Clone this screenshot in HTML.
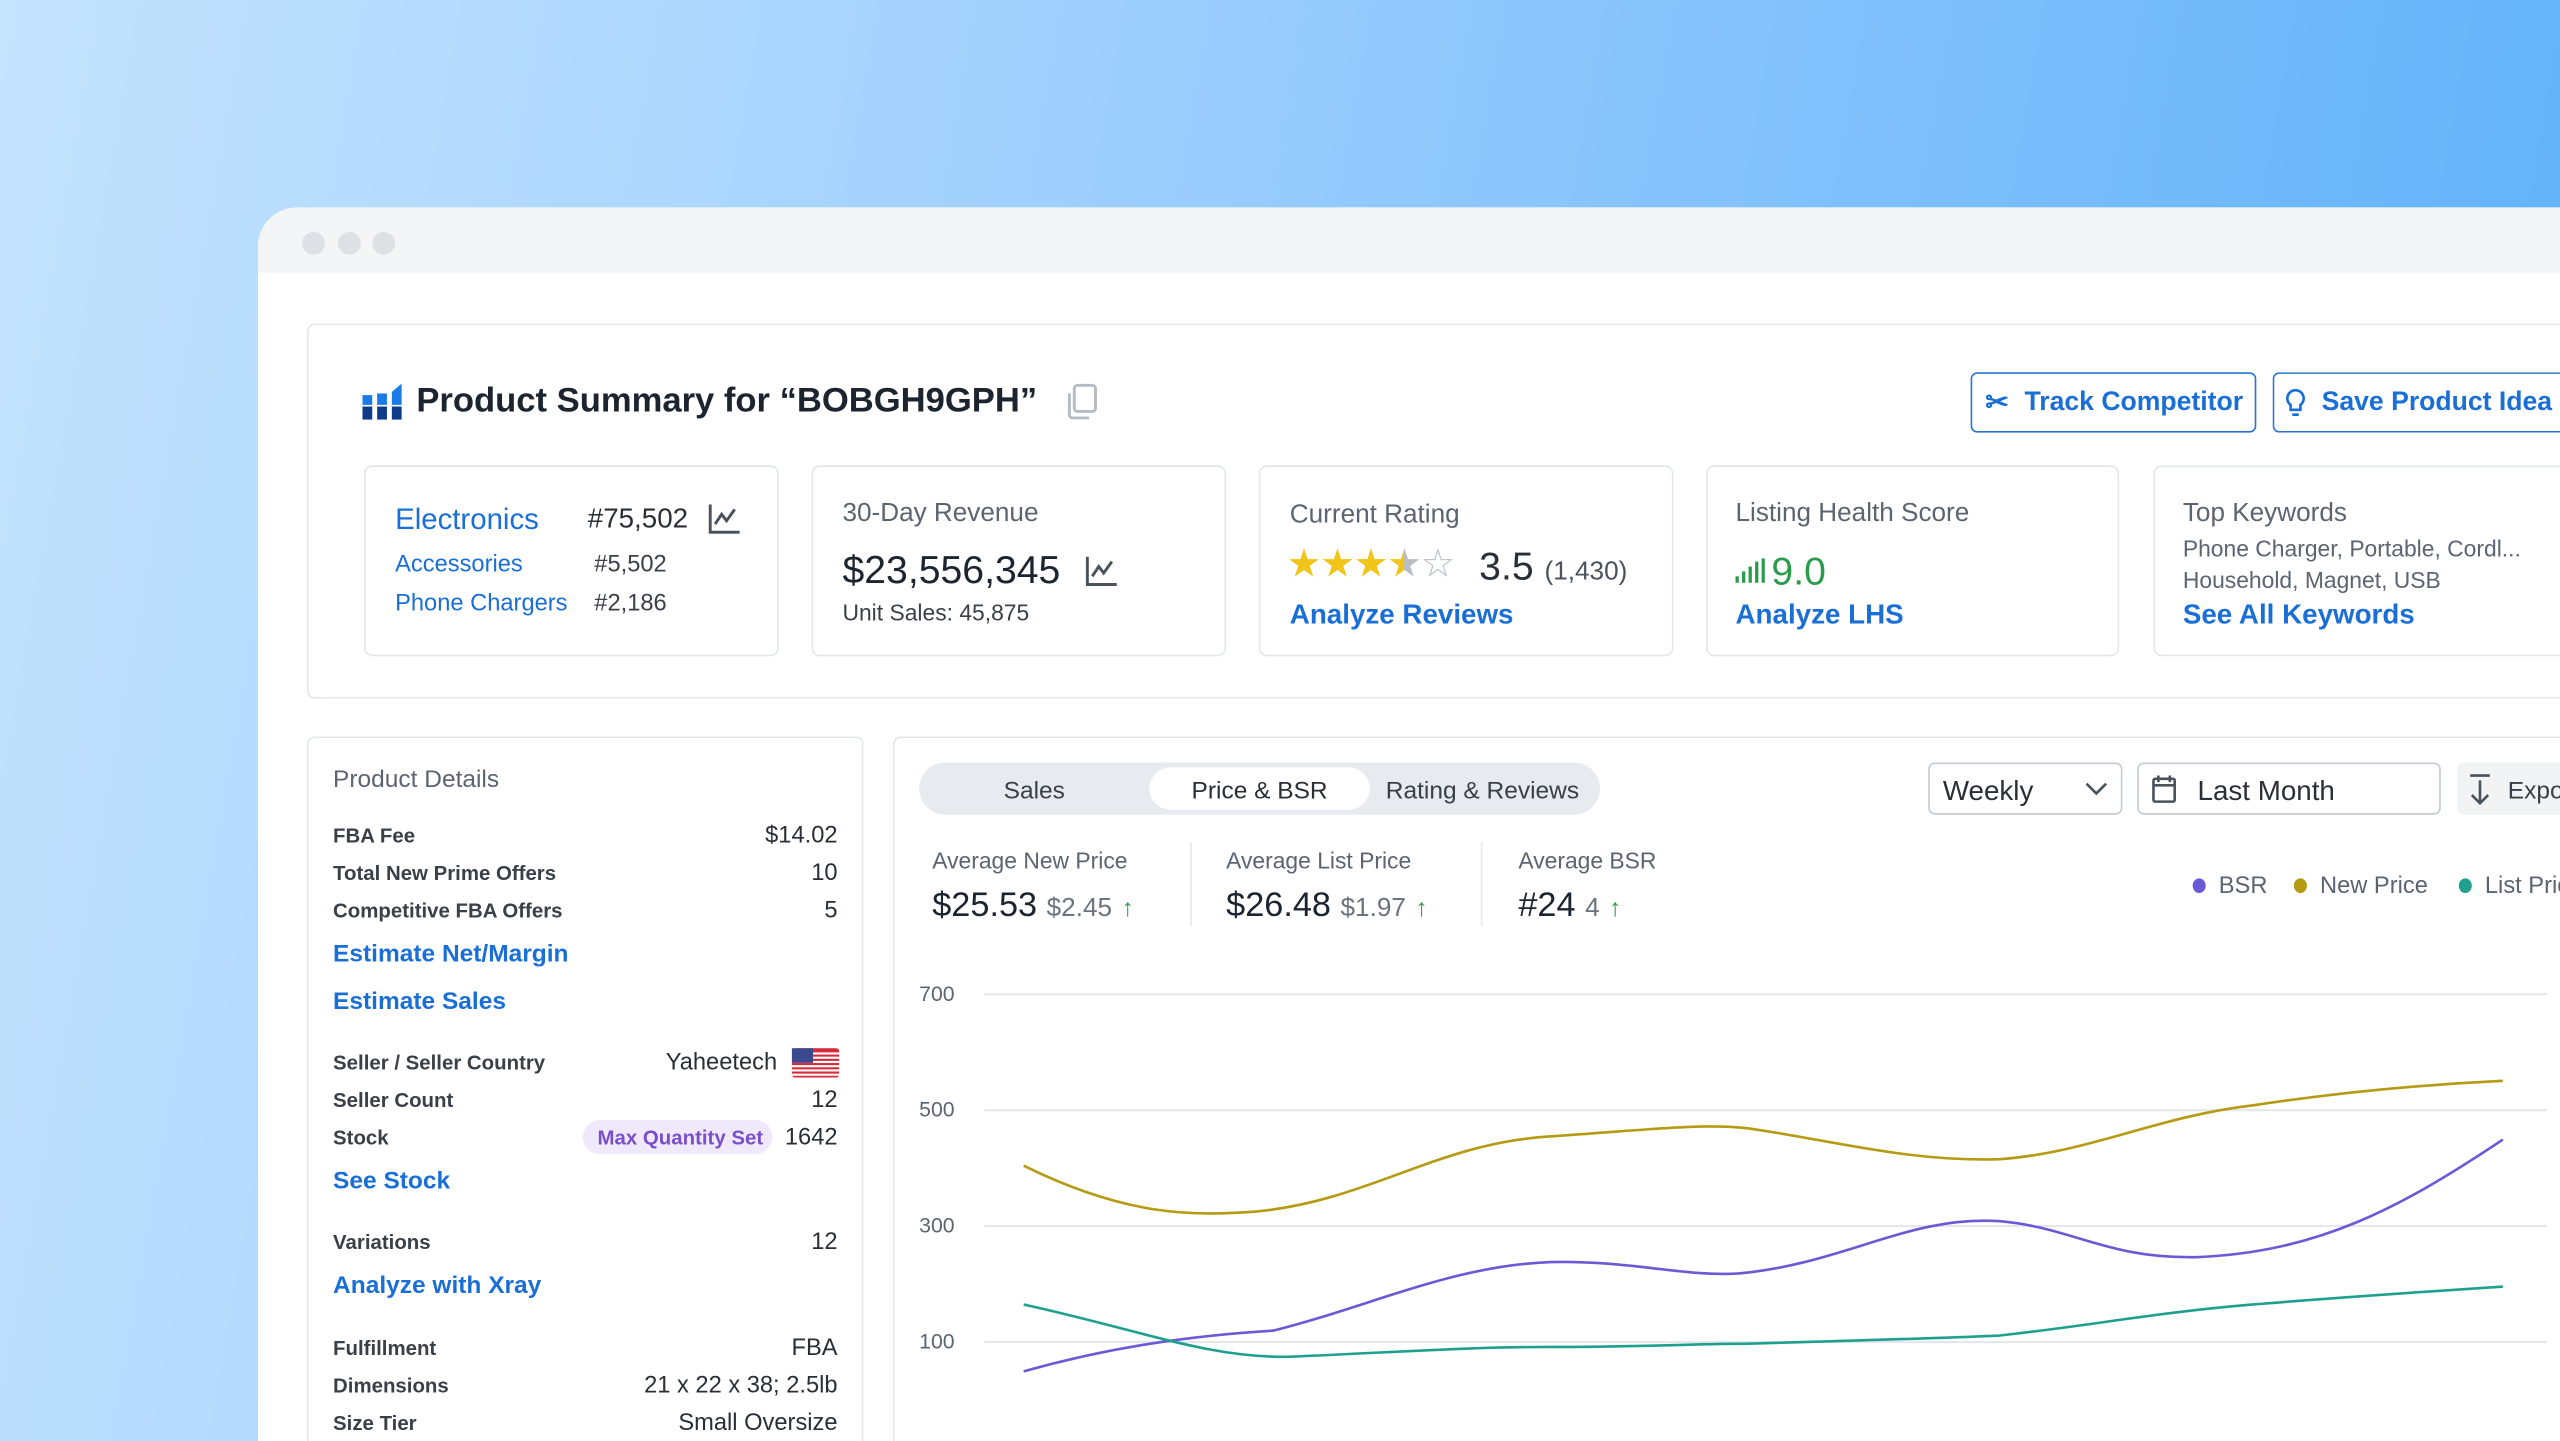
<!DOCTYPE html>
<html><head><meta charset="utf-8"><style>
html,body{margin:0;padding:0;width:2560px;height:1441px;overflow:hidden}
body{background:linear-gradient(100deg,#c4e3fd 0%,#a8d4fd 30%,#86c3fc 60%,#5cb0f8 100%);position:relative}
#wrap{position:absolute;left:0;top:0;width:2560px;height:1441px;overflow:hidden}
#s{position:absolute;left:0;top:0;width:1568px;height:883px;overflow:hidden;transform:scale(1.63265);transform-origin:0 0;font-family:"Liberation Sans",sans-serif;color:#2a2f36}
.t{position:absolute;white-space:nowrap;line-height:1}
.b{position:absolute;box-sizing:border-box}
.g{color:#5b6470}
.lk{color:#1a6fd6;font-weight:bold}
.lb{font-weight:bold;font-size:12.5px;color:#3a4048}
.v{font-size:14.5px;color:#2a2f36;text-align:right}
.card{border:1px solid #e3e7ec;border-radius:5px;background:#fff}
</style></head><body><div id="wrap"><div id="s">
<div class="b" style="left:158px;top:127px;width:1410px;height:756px;background:#fff;border-radius:24px 0 0 0;overflow:hidden">
  <div class="b" style="left:0;top:0;width:100%;height:40px;background:#f3f5f7"></div>
</div>
<div class="b" style="left:185px;top:142px;width:14px;height:14px;border-radius:50%;background:#dde1e6"></div>
<div class="b" style="left:207px;top:142px;width:14px;height:14px;border-radius:50%;background:#dde1e6"></div>
<div class="b" style="left:228px;top:142px;width:14px;height:14px;border-radius:50%;background:#dde1e6"></div>

<div class="b card" style="left:188px;top:198px;width:1380px;height:230px;border-right:none;border-radius:5px 0 0 5px"></div>
<svg class="b" style="left:222px;top:235px" width="25" height="23" viewBox="0 0 25 23"><g fill="#1a7be6"><rect x="0" y="7" width="6" height="6"/><rect x="9" y="6" width="6" height="7"/><polygon points="18,5 24,0 24,13 18,13"/></g><g fill="#0d3a8a"><rect x="0" y="14" width="6" height="8"/><rect x="9" y="14" width="6" height="8"/><rect x="18" y="14" width="6" height="8"/></g></svg>
<div class="t" style="left:255px;top:235px;font-size:21.2px;font-weight:bold;color:#1c2430">Product Summary for “BOBGH9GPH”</div>
<svg class="b" style="left:650px;top:234px" width="24" height="24" viewBox="0 0 24 24" fill="none" stroke="#b6bcc4" stroke-width="1.8"><rect x="8" y="2" width="13" height="16" rx="2"/><path d="M5 7v13a2 2 0 0 0 2 2h10"/></svg>

<div class="b" style="left:1207px;top:228px;width:175px;height:37px;border:1.3px solid #2a74c9;border-radius:4px"></div>
<div class="t" style="left:1216px;top:238px;font-size:17px;color:#1a6fd6;font-weight:bold">✂</div>
<div class="t" style="left:1240px;top:238px;font-size:16.3px;color:#1a6fd6;font-weight:bold">Track Competitor</div>
<div class="b" style="left:1392px;top:228px;width:176px;height:37px;border:1.3px solid #2a74c9;border-right:none;border-radius:4px 0 0 4px"></div>
<svg class="b" style="left:1400px;top:238px" width="12" height="18" viewBox="0 0 12 18" fill="none" stroke="#1a6fd6" stroke-width="1.6"><path d="M6 1a5 5 0 0 0-3 9v3h6v-3a5 5 0 0 0-3-9z"/><path d="M4 16h4"/></svg>
<div class="t" style="left:1422px;top:238px;font-size:16.3px;color:#1a6fd6;font-weight:bold">Save Product Idea</div>

<div class="b card" style="left:223px;top:285px;width:254px;height:117px"></div>
<div class="b card" style="left:497px;top:285px;width:254px;height:117px"></div>
<div class="b card" style="left:771px;top:285px;width:254px;height:117px"></div>
<div class="b card" style="left:1045px;top:285px;width:253px;height:117px"></div>
<div class="b card" style="left:1319px;top:285px;width:249px;height:117px;border-right:none;border-radius:5px 0 0 5px"></div>

<div class="t" style="left:242px;top:309px;font-size:18px;color:#1a6fd6">Electronics</div>
<div class="t" style="left:360px;top:309px;font-size:17px;color:#2a2f36">#75,502</div>
<svg class="b" style="left:434px;top:308px" width="20" height="19" viewBox="0 0 20 19" fill="none" stroke="#4a525c" stroke-width="1.8"><path d="M1 1v17h18"/><path d="M4 13l4-6 3 4 5-7"/></svg>
<div class="t" style="left:242px;top:339px;font-size:14.5px;color:#1a6fd6">Accessories</div>
<div class="t" style="left:364px;top:339px;font-size:14.5px;color:#3a4048">#5,502</div>
<div class="t" style="left:242px;top:363px;font-size:14.5px;color:#1a6fd6">Phone Chargers</div>
<div class="t" style="left:364px;top:363px;font-size:14.5px;color:#3a4048">#2,186</div>

<div class="t g" style="left:516px;top:307px;font-size:16px">30-Day Revenue</div>
<div class="t" style="left:516px;top:338px;font-size:24px;color:#1c2430">$23,556,345</div>
<svg class="b" style="left:665px;top:340px" width="20" height="19" viewBox="0 0 20 19" fill="none" stroke="#4a525c" stroke-width="1.8"><path d="M1 1v17h18"/><path d="M4 13l4-6 3 4 5-7"/></svg>
<div class="t" style="left:516px;top:368px;font-size:14px;color:#3a4048">Unit Sales: 45,875</div>

<div class="t g" style="left:790px;top:308px;font-size:16px">Current Rating</div>
<div class="t" style="left:788px;top:334px;font-size:24px;color:#f0c419;letter-spacing:-1px">★★★<span style="background:linear-gradient(90deg,#f0c419 50%,#b8bec6 50%);-webkit-background-clip:text;color:transparent">★</span><span style="color:#b8bec6">☆</span></div>
<div class="t" style="left:906px;top:336px;font-size:24px;color:#2a2f36">3.5 <span style="font-size:16px;color:#4a525c">(1,430)</span></div>
<div class="t lk" style="left:790px;top:368px;font-size:17px">Analyze Reviews</div>

<div class="t g" style="left:1063px;top:307px;font-size:16px">Listing Health Score</div>
<svg class="b" style="left:1063px;top:342px" width="18" height="15" viewBox="0 0 18 15" fill="#2a9a4b"><rect x="0" y="11" width="2" height="4"/><rect x="4" y="8" width="2" height="7"/><rect x="8" y="5" width="2" height="10"/><rect x="12" y="2" width="2" height="13"/><rect x="16" y="0" width="2" height="15"/></svg>
<div class="t" style="left:1085px;top:339px;font-size:24px;color:#2a9a4b">9.0</div>
<div class="t lk" style="left:1063px;top:368px;font-size:17px">Analyze LHS</div>

<div class="t g" style="left:1337px;top:307px;font-size:16px">Top Keywords</div>
<div class="t g" style="left:1337px;top:329px;font-size:14px">Phone Charger, Portable, Cordl...</div>
<div class="t g" style="left:1337px;top:348px;font-size:14px">Household, Magnet, USB</div>
<div class="t lk" style="left:1337px;top:368px;font-size:17px">See All Keywords</div>

<div class="b card" style="left:188px;top:451px;width:341px;height:432px;border-bottom:none;border-radius:5px 5px 0 0"></div>
<div class="t g" style="left:204px;top:470px;font-size:15px">Product Details</div>
<div class="t lb" style="left:204px;top:506px">FBA Fee</div><div class="t v" style="right:1055px;top:505px">$14.02</div>
<div class="t lb" style="left:204px;top:529px">Total New Prime Offers</div><div class="t v" style="right:1055px;top:528px">10</div>
<div class="t lb" style="left:204px;top:552px">Competitive FBA Offers</div><div class="t v" style="right:1055px;top:551px">5</div>
<div class="t lk" style="left:204px;top:577px;font-size:15px">Estimate Net/Margin</div>
<div class="t lk" style="left:204px;top:606px;font-size:15px">Estimate Sales</div>
<div class="t lb" style="left:204px;top:645px">Seller / Seller Country</div><div class="t v" style="right:1092px;top:644px">Yaheetech</div>
<svg class="b" style="left:485px;top:642px" width="29" height="18" viewBox="0 0 29 18"><rect width="29" height="18" rx="2" fill="#d62b3a"/><g fill="#fff"><rect y="2.6" width="29" height="1.3"/><rect y="5.2" width="29" height="1.3"/><rect y="7.8" width="29" height="1.3"/><rect y="10.4" width="29" height="1.3"/><rect y="13" width="29" height="1.3"/><rect y="15.6" width="29" height="1.3"/></g><rect width="13" height="9" fill="#3b4a8f"/></svg>
<div class="t lb" style="left:204px;top:668px">Seller Count</div><div class="t v" style="right:1055px;top:667px">12</div>
<div class="t lb" style="left:204px;top:691px">Stock</div>
<div class="b" style="left:357px;top:686px;width:116px;height:21px;border-radius:11px;background:#efe9fb"></div>
<div class="t" style="left:366px;top:691px;font-size:12.5px;font-weight:bold;color:#7a4fc9">Max Quantity Set</div>
<div class="t v" style="right:1055px;top:690px">1642</div>
<div class="t lk" style="left:204px;top:716px;font-size:15px">See Stock</div>
<div class="t lb" style="left:204px;top:755px">Variations</div><div class="t v" style="right:1055px;top:754px">12</div>
<div class="t lk" style="left:204px;top:780px;font-size:15px">Analyze with Xray</div>
<div class="t lb" style="left:204px;top:820px">Fulfillment</div><div class="t v" style="right:1055px;top:819px">FBA</div>
<div class="t lb" style="left:204px;top:843px">Dimensions</div><div class="t v" style="right:1055px;top:842px">21 x 22 x 38; 2.5lb</div>
<div class="t lb" style="left:204px;top:866px">Size Tier</div><div class="t v" style="right:1055px;top:865px">Small Oversize</div>

<div class="b card" style="left:547px;top:451px;width:1021px;height:432px;border-bottom:none;border-right:none;border-radius:5px 0 0 0"></div>
<div class="b" style="left:563px;top:467px;width:417px;height:32px;border-radius:16px;background:#e7eaee"></div>
<div class="b" style="left:704px;top:470px;width:135px;height:26px;border-radius:13px;background:#fff"></div>
<div class="t" style="left:563px;top:477px;width:141px;text-align:center;font-size:15px;color:#3a4048">Sales</div>
<div class="t" style="left:704px;top:477px;width:135px;text-align:center;font-size:15px;color:#2a2f36">Price &amp; BSR</div>
<div class="t" style="left:839px;top:477px;width:138px;text-align:center;font-size:15px;color:#3a4048">Rating &amp; Reviews</div>

<div class="b" style="left:1181px;top:467px;width:119px;height:32px;border:1px solid #c5cbd3;border-radius:4px"></div>
<div class="t" style="left:1190px;top:476px;font-size:17px;color:#2a2f36">Weekly</div>
<svg class="b" style="left:1277px;top:479px" width="14" height="9" viewBox="0 0 14 9" fill="none" stroke="#4a525c" stroke-width="1.6"><path d="M1 1l6 6 6-6"/></svg>
<div class="b" style="left:1309px;top:467px;width:186px;height:32px;border:1px solid #c5cbd3;border-radius:4px"></div>
<svg class="b" style="left:1318px;top:474px" width="15" height="18" viewBox="0 0 15 18" fill="none" stroke="#4a525c" stroke-width="1.6"><rect x="1" y="3" width="13" height="14" rx="1"/><path d="M4 1v4M11 1v4M1 7h13"/></svg>
<div class="t" style="left:1346px;top:476px;font-size:17px;color:#2a2f36">Last Month</div>
<div class="b" style="left:1505px;top:467px;width:63px;height:32px;border-radius:4px 0 0 4px;background:#f1f3f5"></div>
<svg class="b" style="left:1512px;top:474px" width="14" height="19" viewBox="0 0 14 19" fill="none" stroke="#4a525c" stroke-width="1.6"><path d="M1 1h12M7 4v14M2 13l5 5 5-5"/></svg>
<div class="t" style="left:1536px;top:477px;font-size:15px;color:#3a4048">Export</div>

<div class="t g" style="left:571px;top:520px;font-size:14px">Average New Price</div>
<div class="t" style="left:571px;top:544px;font-size:21px;color:#1c2430">$25.53 <span style="font-size:16px;color:#6b737d">$2.45</span> <span style="font-size:15px;color:#2a9a4b">↑</span></div>
<div class="b" style="left:729px;top:516px;width:1px;height:51px;background:#e3e7ec"></div>
<div class="t g" style="left:751px;top:520px;font-size:14px">Average List Price</div>
<div class="t" style="left:751px;top:544px;font-size:21px;color:#1c2430">$26.48 <span style="font-size:16px;color:#6b737d">$1.97</span> <span style="font-size:15px;color:#2a9a4b">↑</span></div>
<div class="b" style="left:907px;top:516px;width:1px;height:51px;background:#e3e7ec"></div>
<div class="t g" style="left:930px;top:520px;font-size:14px">Average BSR</div>
<div class="t" style="left:930px;top:544px;font-size:21px;color:#1c2430">#24 <span style="font-size:16px;color:#6b737d">4</span> <span style="font-size:15px;color:#2a9a4b">↑</span></div>

<div class="b" style="left:1343px;top:538px;width:8px;height:9px;border-radius:50%;background:#6a5ad6"></div>
<div class="t g" style="left:1359px;top:536px;font-size:14.5px">BSR</div>
<div class="b" style="left:1405px;top:538px;width:8px;height:9px;border-radius:50%;background:#b59a12"></div>
<div class="t g" style="left:1421px;top:536px;font-size:14.5px">New Price</div>
<div class="b" style="left:1506px;top:538px;width:8px;height:9px;border-radius:50%;background:#1fa08f"></div>
<div class="t g" style="left:1522px;top:536px;font-size:14.5px">List Price</div>

<div class="t g" style="left:563px;top:602px;font-size:13px">700</div>
<div class="t g" style="left:563px;top:673px;font-size:13px">500</div>
<div class="t g" style="left:563px;top:744px;font-size:13px">300</div>
<div class="t g" style="left:563px;top:815px;font-size:13px">100</div>
<svg class="b" style="left:0;top:0" width="1568" height="883" viewBox="0 0 1568 883" fill="none" stroke-width="1.6">
<g stroke="#e4e7eb" stroke-width="1.3"><path d="M603 609H1560M603 680H1560M603 751H1560M603 822H1560"/></g>
<path stroke="#b59a12" d="M627 714C690 745 730 745 770 742C840 735 880 700 950 696C1010 692 1040 688 1070 691C1120 698 1170 712 1225 710C1280 706 1320 684 1380 677C1440 668 1490 664 1533 662"/>
<path stroke="#6a5ad6" d="M627 840C680 825 730 818 780 815C840 800 890 775 950 773C1000 772 1030 782 1065 780C1130 774 1170 744 1225 748C1270 752 1290 771 1345 770C1420 767 1470 740 1533 698"/>
<path stroke="#1fa08f" d="M627 799C700 815 740 832 790 831C860 828 900 825 950 825C1010 825 1040 823 1070 823C1140 821 1180 820 1225 818C1280 812 1320 804 1380 799C1440 794 1490 791 1533 788"/>
</svg>
</div></div></body></html>
